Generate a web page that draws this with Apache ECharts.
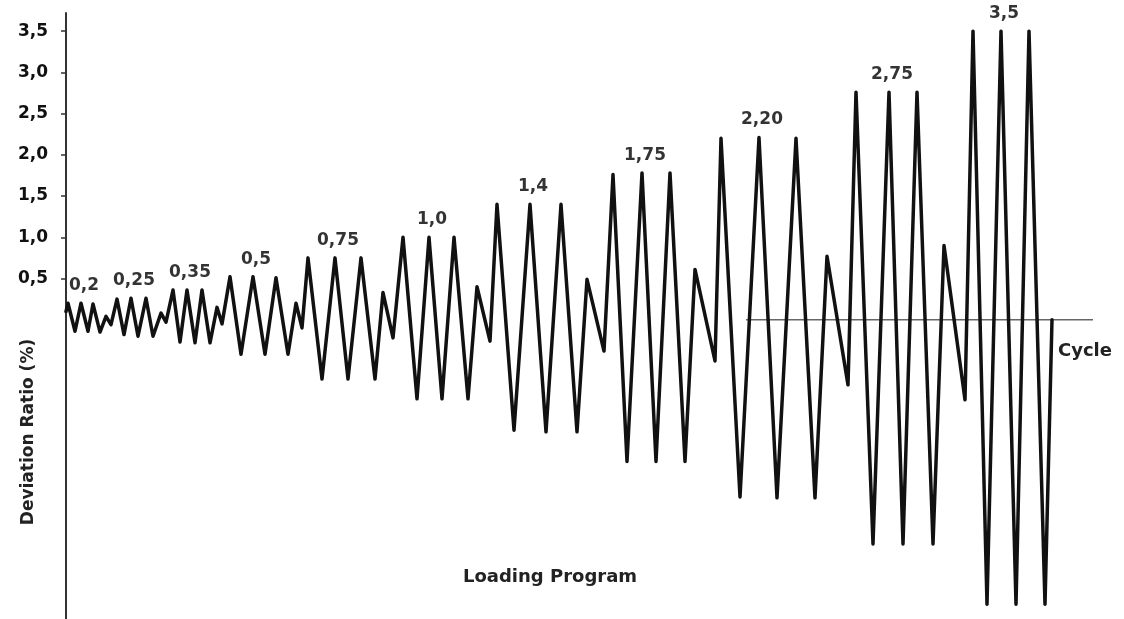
<!DOCTYPE html>
<html>
<head>
<meta charset="utf-8">
<script src="https://cdn.jsdelivr.net/npm/echarts@6/dist/echarts.min.js"></script>
<style>
  html, body { margin: 0; padding: 0; background: #ffffff; }
  #chart { width: 1124px; height: 619px; }
</style>
</head>
<body>
<div id="chart"></div>
<script>
// Loading program: turning points (time in arbitrary steps, deviation ratio in %)
var cycleTime = [
  0, 2, 9, 15, 22, 27, 34, 40, 45,
  51, 58, 65, 72, 80, 87, 95, 100,
  107, 114, 121, 129, 136, 144, 151, 156,
  164, 175, 187, 199, 210, 222, 230, 236,
  242, 256, 269, 282, 295, 309, 317, 327,
  337, 351, 363, 376, 388, 402, 411, 424,
  431, 448, 464, 480, 495, 511, 521, 538,
  547, 561, 576, 590, 604, 619, 629, 649,
  655, 674, 693, 711, 730, 749, 761, 782,
  790, 807, 823, 837, 851, 867, 878, 899,
  907, 921, 935, 950, 963, 979, 986
];
var deviation = [
  0.10, 0.20, -0.14, 0.20, -0.14, 0.19, -0.15, 0.04, -0.06,
  0.25, -0.18, 0.26, -0.20, 0.26, -0.20, 0.08, -0.03,
  0.36, -0.27, 0.36, -0.28, 0.36, -0.28, 0.15, -0.05,
  0.52, -0.42, 0.52, -0.42, 0.51, -0.42, 0.20, -0.10,
  0.75, -0.72, 0.75, -0.72, 0.75, -0.72, 0.33, -0.22,
  1.00, -0.96, 1.00, -0.96, 1.00, -0.96, 0.40, -0.26,
  1.40, -1.34, 1.40, -1.36, 1.40, -1.36, 0.49, -0.38,
  1.76, -1.72, 1.78, -1.72, 1.78, -1.72, 0.61, -0.50,
  2.20, -2.15, 2.21, -2.16, 2.20, -2.16, 0.77, -0.79,
  2.76, -2.72, 2.76, -2.72, 2.76, -2.72, 0.90, -0.97,
  3.50, -3.45, 3.50, -3.45, 3.50, -3.45, 0.00
];
// Drift levels and the middle peak of each level's three cycles
var levelNames = ['0,2', '0,25', '0,35', '0,5', '0,75', '1,0', '1,4', '1,75', '2,20', '2,75', '3,5'];
var levelPeakTime = [15, 65, 121, 187, 269, 363, 464, 576, 693, 823, 935];
var levelAmplitude = [0.20, 0.26, 0.36, 0.52, 0.75, 1.00, 1.40, 1.78, 2.21, 2.76, 3.50];
// Deviation ratio tick labels
var yTickValues = [0.5, 1.0, 1.5, 2.0, 2.5, 3.0, 3.5];
// Horizontal "Cycle" axis extent (time)
var cycleAxisTime = [680, 1027];
var cycleAxisValue = [0, 0];

var waveData = cycleTime.map(function (t, i) { return [t, deviation[i]]; });
var labelData = levelNames.map(function (n, i) { return [levelPeakTime[i], levelAmplitude[i], n]; });
var zeroData = cycleAxisTime.map(function (t, i) { return [t, cycleAxisValue[i]]; });

var chart = echarts.init(document.getElementById('chart'));
chart.setOption({
  backgroundColor: '#ffffff',
  animation: false,
  grid: { left: 66, right: 31, top: 13, bottom: 0, containLabel: false },
  xAxis: {
    type: 'value', min: 0, max: 1027,
    axisLine: { show: false }, axisTick: { show: false },
    axisLabel: { show: false }, splitLine: { show: false }
  },
  yAxis: {
    type: 'value', min: -3.63, max: 3.72,
    axisLine: { show: true, onZero: false, lineStyle: { color: '#333333', width: 2 } },
    axisTick: { show: true, customValues: yTickValues, length: 5, lineStyle: { color: '#333333', width: 1.5 } },
    axisLabel: {
      show: true, customValues: yTickValues, margin: 18,
      fontFamily: 'DejaVu Sans', fontWeight: 'bold', fontSize: 17, color: '#111111',
      formatter: function (v) { return v.toFixed(1).replace('.', ','); }
    },
    splitLine: { show: false }
  },
  series: [
    {
      type: 'line', data: zeroData, symbol: 'none', silent: true, z: 1,
      lineStyle: { color: '#666666', width: 1.5 }
    },
    {
      type: 'line', data: waveData, symbol: 'none', smooth: false, z: 2,
      lineStyle: { color: '#111111', width: 3.5, join: 'round', cap: 'round' }
    },
    {
      type: 'scatter', data: labelData, symbolSize: 0, z: 3,
      label: {
        show: true, position: 'top', distance: 9, offset: [3, 0],
        fontFamily: 'DejaVu Sans', fontWeight: 'bold', fontSize: 17, color: '#000000',
        formatter: function (p) { return p.data[2]; }
      }
    }
  ],
  graphic: [
    {
      type: 'text', x: 29, y: 432, rotation: Math.PI / 2,
      style: { text: 'Deviation Ratio (%)', fontFamily: 'DejaVu Sans', fontWeight: 'bold', fontSize: 17,
        fill: '#222222', textAlign: 'center', textVerticalAlign: 'middle' }
    },
    {
      type: 'text', x: 550, y: 577,
      style: { text: 'Loading Program', fontFamily: 'DejaVu Sans', fontWeight: 'bold', fontSize: 18,
        fill: '#222222', textAlign: 'center', textVerticalAlign: 'middle' }
    },
    {
      type: 'text', x: 1085, y: 351,
      style: { text: 'Cycle', fontFamily: 'DejaVu Sans', fontWeight: 'bold', fontSize: 18,
        fill: '#222222', textAlign: 'center', textVerticalAlign: 'middle' }
    }
  ]
});
</script>
</body>
</html>
